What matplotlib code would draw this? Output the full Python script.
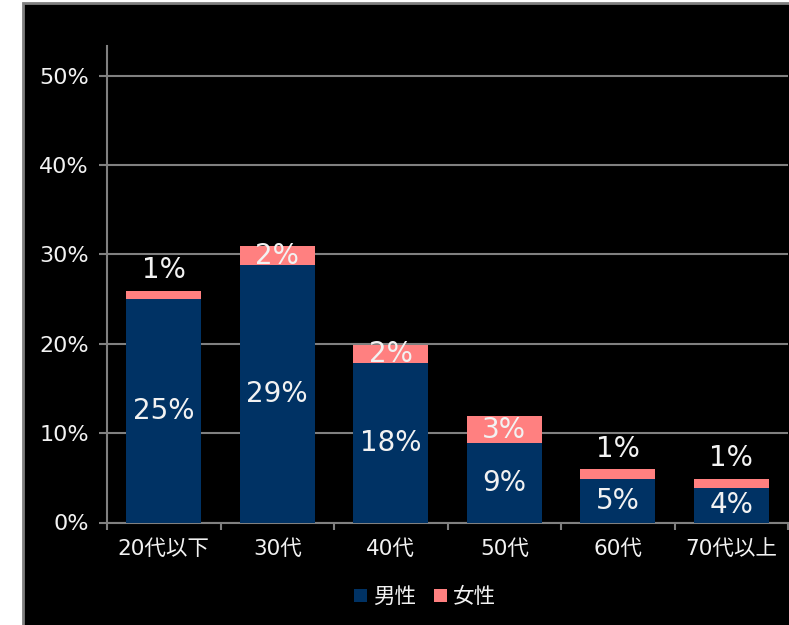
import numpy as np
import matplotlib.pyplot as plt
from matplotlib.patches import Rectangle
from matplotlib.ticker import FixedLocator, PercentFormatter

plt.rcParams['font.family'] = ['DejaVu Sans', 'Noto Sans CJK JP']

categories = ['20代以下', '30代', '40代', '50代', '60代', '70代以上']
male = [25.0, 28.8, 17.8, 8.9, 4.9, 3.9]
female = [0.9, 2.1, 2.1, 3.0, 1.05, 1.0]
male_labels = ['25%', '29%', '18%', '9%', '5%', '4%']
female_labels = ['1%', '2%', '2%', '3%', '1%', '1%']
series_names = ['男性', '女性']

navy = '#003264'
pink = '#FF8080'
grid_gray = '#808080'
text_color = '#F2F2F2'

fig = plt.figure(figsize=(7.89, 6.25), dpi=100, facecolor='white')
# black chart area with gray border
fig.patches.append(Rectangle((23 / 789, -0.05), 1.2, 1.05 - 3 / 625,
                             transform=fig.transFigure, facecolor='black',
                             edgecolor=grid_gray, linewidth=2, zorder=-5))

ax = fig.add_axes([107 / 789, 102.5 / 625, 681 / 789, (522.5 - 46) / 625])
ax.set_facecolor('black')

x = np.arange(len(categories))
ax.bar(x, male, width=0.66, color=navy, label=series_names[0], zorder=3)
ax.bar(x, female, width=0.66, bottom=male, color=pink,
       label=series_names[1], zorder=3)

for i in range(len(categories)):
    ax.text(x[i], male[i] / 2, male_labels[i], ha='center', va='center',
            color=text_color, fontsize=20, zorder=4)
    if female[i] < 1.5:
        y = male[i] + female[i] + 2.3
    else:
        y = male[i] + female[i] / 2
    ax.text(x[i], y, female_labels[i], ha='center', va='center',
            color=text_color, fontsize=20, zorder=4)

ax.set_xlim(-0.5, len(categories) - 0.5)
ax.set_ylim(0, 53.3)
ax.set_yticks(np.arange(0, 51, 10))
ax.yaxis.set_major_formatter(PercentFormatter(decimals=0))
ax.yaxis.grid(True, color=grid_gray, linewidth=1.5, zorder=1)

ax.set_xticks(x)
ax.set_xticklabels(categories)
ax.xaxis.set_minor_locator(FixedLocator(np.arange(-0.5, len(categories), 1)))
ax.tick_params(axis='x', which='major', length=0, pad=12,
               labelsize=15.5, labelcolor=text_color)
ax.tick_params(axis='x', which='minor', length=5, width=1.5,
               color=grid_gray)
ax.tick_params(axis='y', length=6, width=1.5, color=grid_gray, pad=7,
               labelsize=16, labelcolor=text_color)

for side in ['top', 'right']:
    ax.spines[side].set_visible(False)
for side in ['left', 'bottom']:
    ax.spines[side].set_color(grid_gray)
    ax.spines[side].set_linewidth(1.5)

handles, labels = ax.get_legend_handles_labels()
leg = fig.legend(handles, labels, loc='center', ncol=2,
                 bbox_to_anchor=(425 / 789, 28 / 625), frameon=False,
                 handlelength=0.6, handleheight=0.6, handletextpad=0.3,
                 columnspacing=0.8, fontsize=15.5)
for t in leg.get_texts():
    t.set_color(text_color)

fig.savefig('out.png', dpi=100, facecolor='white')
